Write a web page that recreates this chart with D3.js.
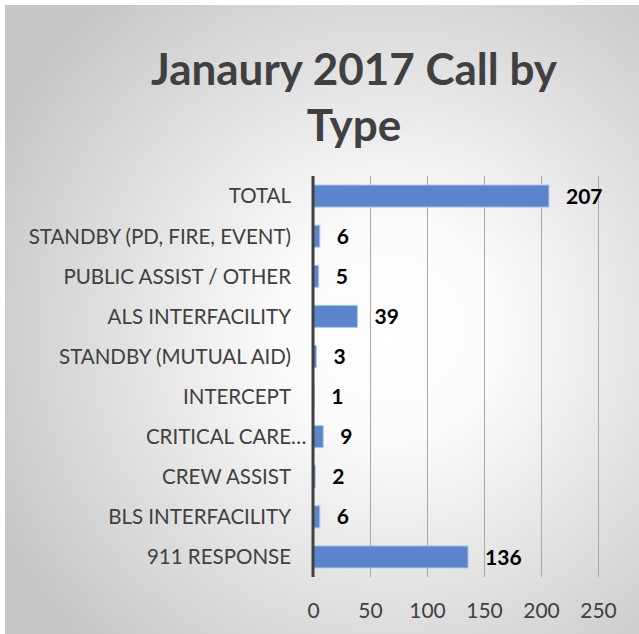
<!DOCTYPE html>
<html>
<head>
<meta charset="utf-8">
<script src="https://cdn.jsdelivr.net/npm/d3@7"></script>
<style>
  html, body { margin: 0; padding: 0; background: #fff; }
  svg { display: block; }
</style>
</head>
<body>
<div id="chart"></div>
<script>
var categories = ["TOTAL", "STANDBY (PD, FIRE, EVENT)", "PUBLIC ASSIST / OTHER", "ALS INTERFACILITY",
  "STANDBY (MUTUAL AID)", "INTERCEPT", "CRITICAL CARE\u2026", "CREW ASSIST", "BLS INTERFACILITY", "911 RESPONSE"];
var calls = [207, 6, 5, 39, 3, 1, 9, 2, 6, 136];
var xTicks = [0, 50, 100, 150, 200, 250];
var titleLines = ["Janaury 2017 Call by", "Type"];

window.onload = () => {
  var W = 639, H = 634;
  var margin = { top: 176, right: 41, bottom: 57, left: 313 },
    width = W - margin.left - margin.right,
    height = H - margin.top - margin.bottom;
  var font = "Lato, 'Open Sans', sans-serif";

  var svg = d3.select("#chart").append("svg")
    .attr("width", W)
    .attr("height", H);

  // background panel with radial shading
  var grad = svg.append("defs").append("radialGradient")
    .attr("id", "bg")
    .attr("gradientUnits", "userSpaceOnUse")
    .attr("cx", 390).attr("cy", 330).attr("r", 440);
  grad.append("stop").attr("offset", "0%").attr("stop-color", "#ffffff");
  grad.append("stop").attr("offset", "25%").attr("stop-color", "#fbfbfb");
  grad.append("stop").attr("offset", "100%").attr("stop-color", "#c6c6c6");

  svg.append("rect")
    .attr("x", 5).attr("y", 5)
    .attr("width", W - 5).attr("height", H - 5)
    .attr("fill", "url(#bg)");

  // title
  svg.append("text")
    .attr("text-anchor", "middle")
    .attr("font-family", font)
    .attr("font-weight", "bold")
    .attr("font-size", 44)
    .attr("fill", "#404040")
    .selectAll("tspan")
    .data(titleLines)
    .join("tspan")
    .attr("x", 354)
    .attr("y", (d, i) => 85 + i * 56)
    .text(d => d);

  var x = d3.scaleLinear()
    .domain([0, 250])
    .range([0, width]);

  var y = d3.scaleBand()
    .domain(categories)
    .range([0, height])
    .paddingInner(0.45)
    .paddingOuter(0.225);

  var g = svg.append("g")
    .attr("transform", "translate(" + margin.left + "," + margin.top + ")");

  // vertical gridlines
  g.append("g")
    .selectAll("line")
    .data(xTicks.slice(1))
    .join("line")
    .attr("x1", d => x(d) + 0.5)
    .attr("x2", d => x(d) + 0.5)
    .attr("y1", 0)
    .attr("y2", height)
    .attr("stroke", "#a8a8a8")
    .attr("stroke-width", 1);

  // x axis labels
  g.append("g")
    .attr("transform", "translate(0," + height + ")")
    .call(d3.axisBottom(x).tickValues(xTicks).tickSize(0).tickPadding(26))
    .call(a => a.select(".domain").remove())
    .selectAll("text")
    .attr("font-family", font)
    .attr("font-size", 21)
    .attr("fill", "#404040");

  // bars
  g.append("g")
    .selectAll("rect")
    .data(calls)
    .join("rect")
    .attr("x", 0)
    .attr("y", (d, i) => y(categories[i]))
    .attr("width", d => x(d))
    .attr("height", y.bandwidth())
    .attr("fill", "#5b85ca")
    .attr("stroke", "#b3c8ec")
    .attr("stroke-width", 1);

  // value labels
  g.append("g")
    .selectAll("text")
    .data(calls)
    .join("text")
    .attr("x", d => x(d) + 17)
    .attr("y", (d, i) => y(categories[i]) + y.bandwidth() / 2)
    .attr("dy", "0.36em")
    .attr("font-family", font)
    .attr("font-weight", "bold")
    .attr("font-size", 21)
    .attr("fill", "#000")
    .text(d => d);

  // category labels
  g.append("g")
    .selectAll("text")
    .data(categories)
    .join("text")
    .attr("x", -22)
    .attr("y", d => y(d) + y.bandwidth() / 2)
    .attr("dy", "0.36em")
    .attr("text-anchor", "end")
    .attr("font-family", font)
    .attr("font-size", 20.5)
    .attr("fill", "#404040")
    .text(d => d.replace("\u2026", ""));

  // truncated label keeps its ellipsis past the label edge
  g.append("g")
    .selectAll("text")
    .data(categories.filter(d => d.endsWith("\u2026")))
    .join("text")
    .attr("x", -22)
    .attr("y", d => y(d) + y.bandwidth() / 2)
    .attr("dy", "0.36em")
    .attr("font-family", font)
    .attr("font-size", 20.5)
    .attr("fill", "#404040")
    .text("\u2026");

  // axis line
  g.append("line")
    .attr("x1", 0).attr("x2", 0)
    .attr("y1", 0).attr("y2", height)
    .attr("stroke", "#404040")
    .attr("stroke-width", 3);
};
</script>
</body>
</html>
